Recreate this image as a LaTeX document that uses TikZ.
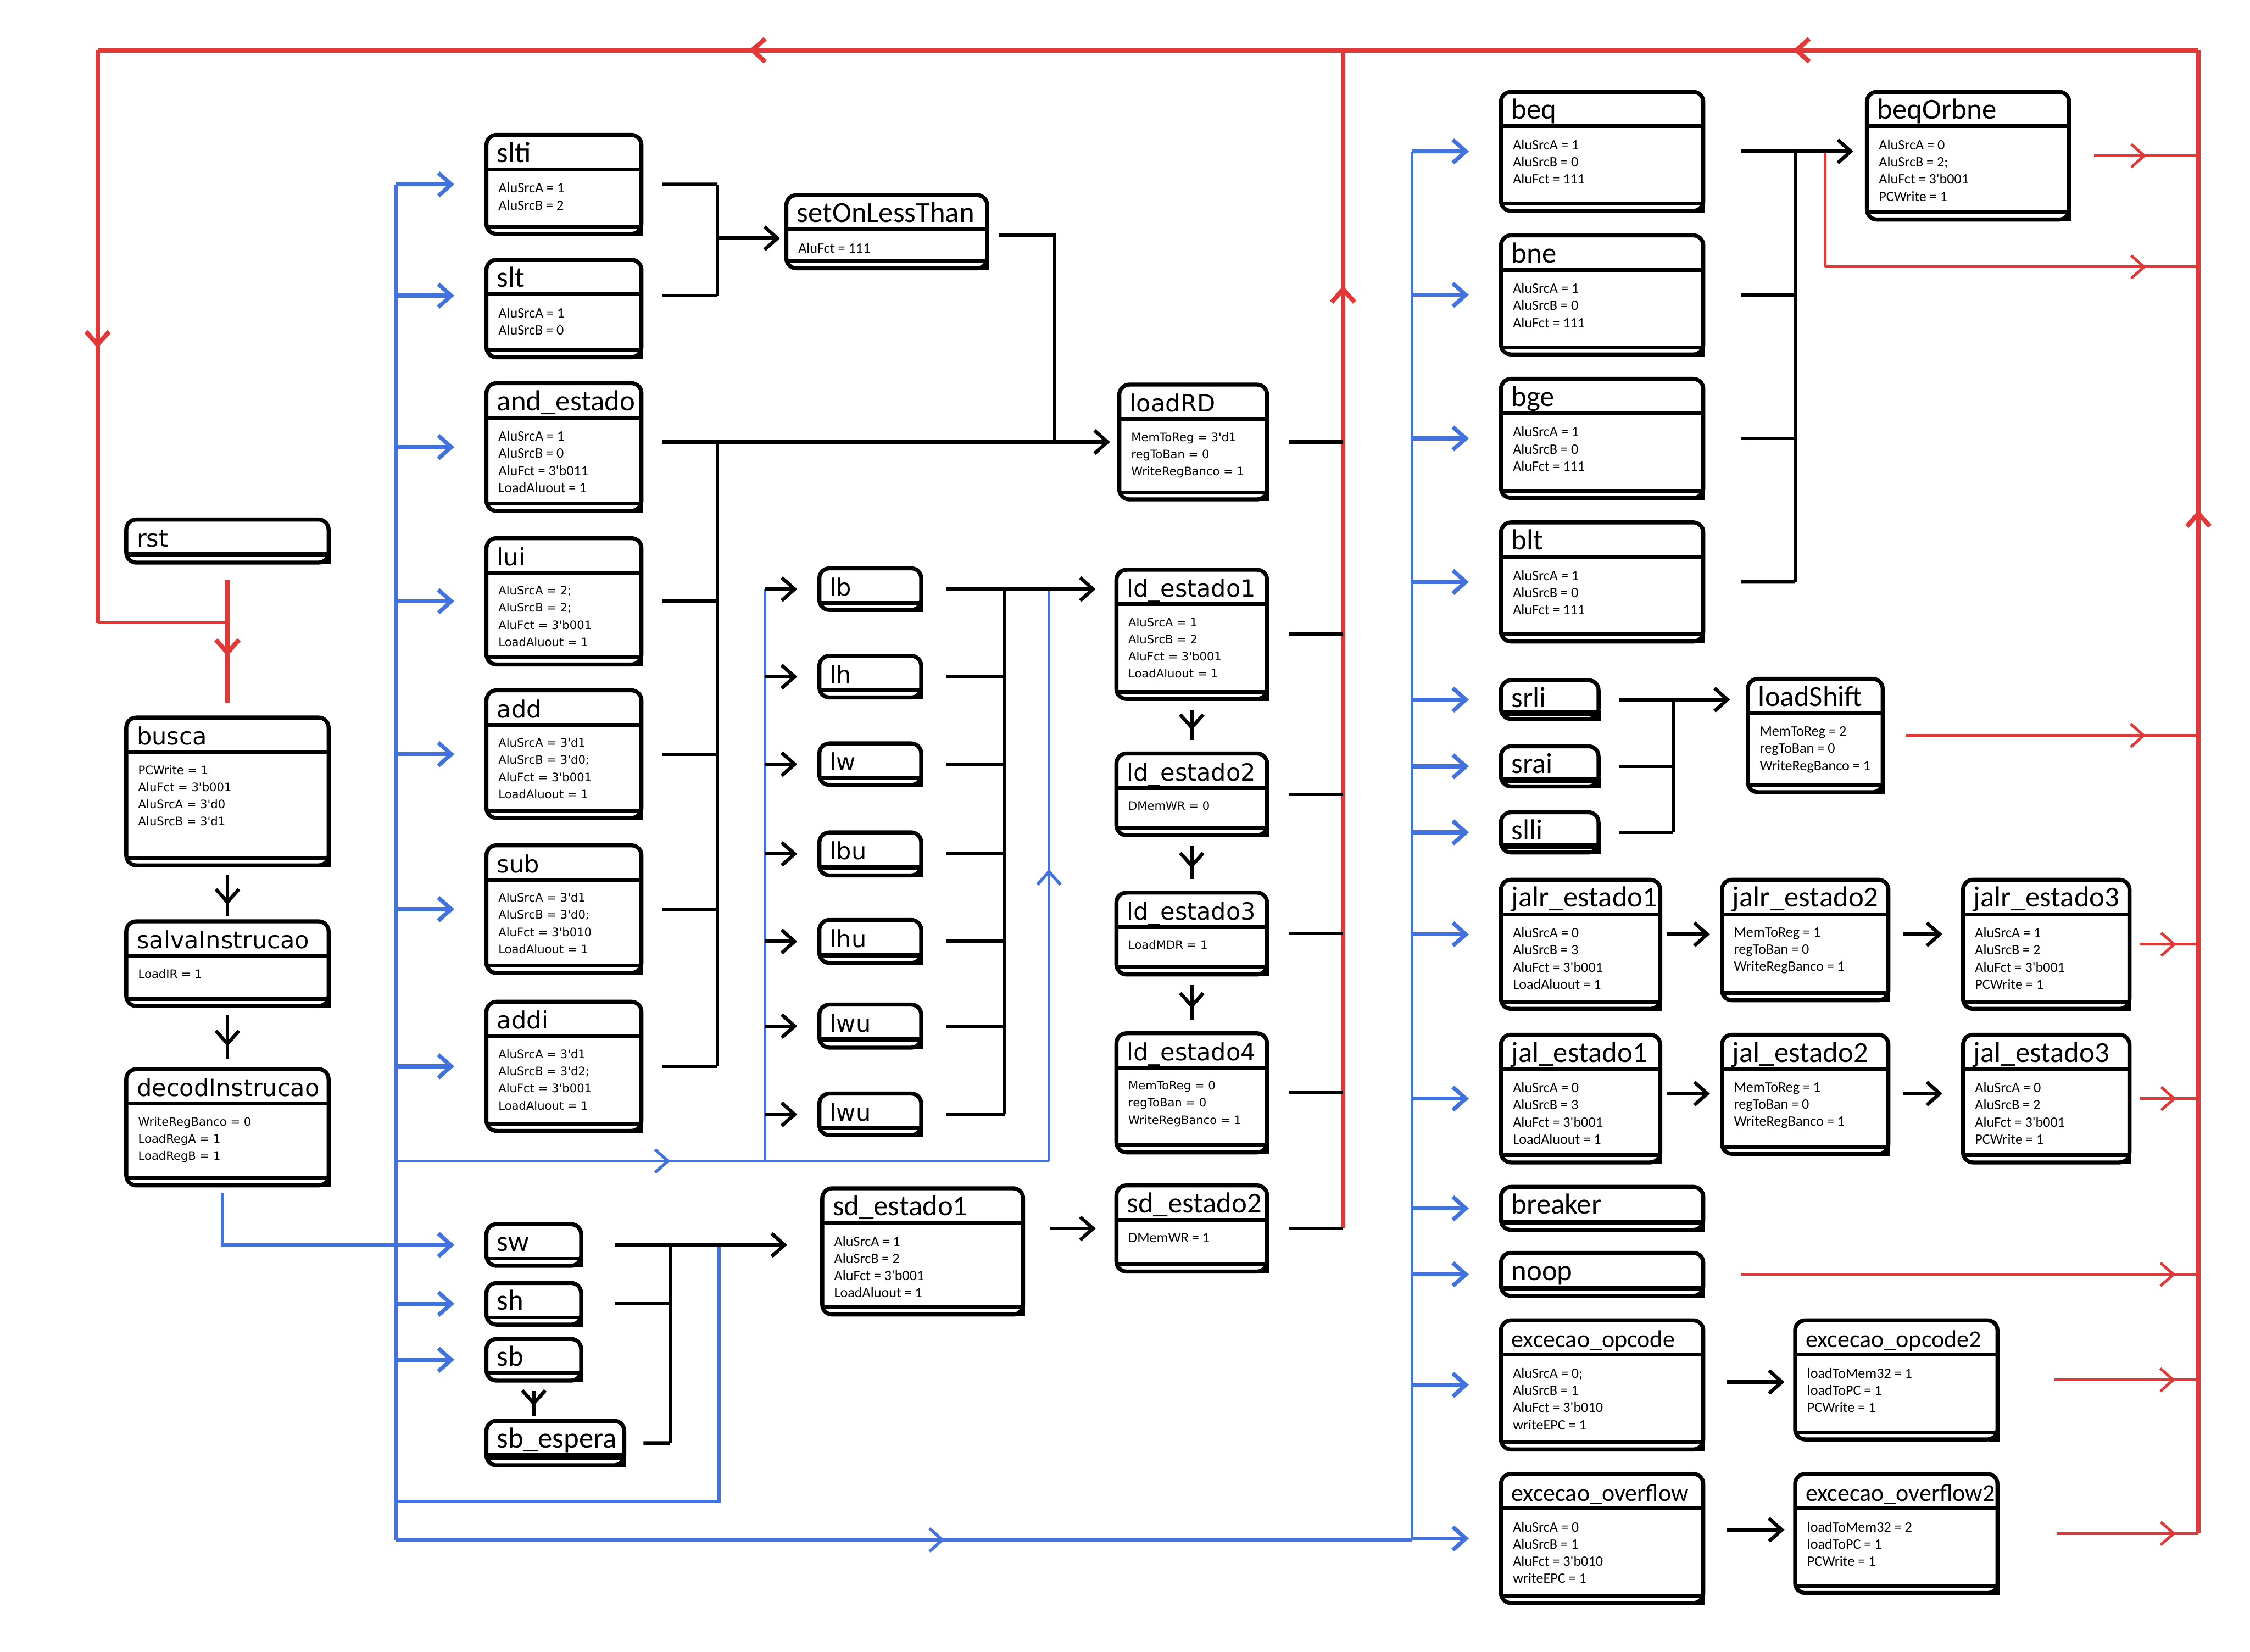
\documentclass[tikz,border=0pt]{standalone}
\usepackage{fontspec}
\usepackage{xcolor}
\usetikzlibrary{arrows.meta,fit,decorations.markings}
\newfontfamily\largo[Ligatures=TeXOff]{DejaVu Sans}
\newfontfamily\estreito[Ligatures=TeXOff]{Carlito}
\definecolor{vermelho}{HTML}{E23838}
\definecolor{azul}{HTML}{4272DD}
\tikzset{
  caixa/.style={draw, line width=1.6pt, rounded corners=4pt, fill=white, inner sep=0pt},
  caixa linha/.style={line width=1.5pt},
  largo titulo/.style={font=\largo\fontsize{9.4}{10}\selectfont, inner sep=0pt},
  largo corpo/.style={font=\largo\fontsize{4.6}{6.8}\selectfont, inner sep=0pt, align=left},
  estreito titulo/.style={font=\estreito\fontsize{11.5}{12}\selectfont, inner sep=0pt},
  estreito corpo/.style={font=\estreito\fontsize{5.7}{6.8}\selectfont, inner sep=0pt, align=left},
  fio/.style={line width=1.4pt},
  fioazul/.style={line width=1.2pt, color=azul},
  setaazul/.style={line width=1.6pt, color=azul, ->, shorten >=0.42cm},
  fiovermelho/.style={line width=1.1pt, color=vermelho},
  barramento/.style={line width=1.8pt, color=vermelho},
  meio/.style={postaction={decorate, decoration={markings, mark=at position #1 with {\arrow{>}}}}}
}
\newcommand{\estado}[8][estreito]{%
  \node[caixa, fit={(#3,#4) (#5,#6)}] (#2) {};
  \draw[caixa linha] (#3,#4+24) -- (#5,#4+24);
  \draw[caixa linha] (#3,#6-5) -- (#5,#6-5);
  \draw[caixa linha, line cap=rect] (#5,#6-5) -- (#5,#6) -- (#5-5,#6);
  \node[#1 titulo, anchor=base west] (#2-t) at (#3+7,#4+19) {#7};
  \node[#1 corpo, anchor=north west] (#2-c) at (#3+8,#4+33) {#8};
}
\newcommand{\exctit}[1]{{\fontsize{9.6}{10}\selectfont #1}}

\begin{document}
\begin{tikzpicture}[x=0.02cm, y=-0.02cm, >={Straight Barb[length=1.8mm,width=3.2mm]}]
\path[use as bounding box, fill=white] (0,0) rectangle (1568,1151);

\estado[largo]{rst}{88}{362}{229}{392}{rst}{}
\estado[largo]{busca}{88}{500}{229}{603}{busca}{PCWrite = 1\\AluFct = 3'b001\\AluSrcA = 3'd0\\AluSrcB = 3'd1}
\estado[largo]{salvaInstrucao}{88}{642}{229}{701}{salvaInstrucao}{LoadIR = 1}
\estado[largo]{decodInstrucao}{88}{745}{229}{826}{decodInstrucao}{WriteRegBanco = 0\\LoadRegA = 1\\LoadRegB = 1}

\estado{slti}{339}{94}{447}{163}{slti}{AluSrcA = 1\\AluSrcB = 2}
\estado{slt}{339}{181}{447}{249}{slt}{AluSrcA = 1\\AluSrcB = 0}
\estado{andEstado}{339}{267}{447}{356}{and\_estado}{AluSrcA = 1\\AluSrcB = 0\\AluFct = 3'b011\\LoadAluout = 1}
\estado[largo]{lui}{339}{375}{447}{463}{lui}{AluSrcA = 2;\\AluSrcB = 2;\\AluFct = 3'b001\\LoadAluout = 1}
\estado[largo]{add}{339}{481}{447}{570}{add}{AluSrcA = 3'd1\\AluSrcB = 3'd0;\\AluFct = 3'b001\\LoadAluout = 1}
\estado[largo]{sub}{339}{589}{447}{678}{sub}{AluSrcA = 3'd1\\AluSrcB = 3'd0;\\AluFct = 3'b010\\LoadAluout = 1}
\estado[largo]{addi}{339}{698}{447}{788}{addi}{AluSrcA = 3'd1\\AluSrcB = 3'd2;\\AluFct = 3'b001\\LoadAluout = 1}
\estado{setOnLessThan}{548}{136}{688}{187}{setOnLessThan}{AluFct = 111}
\estado[largo]{loadRD}{780}{268}{883}{348}{loadRD}{MemToReg = 3'd1\\regToBan = 0\\WriteRegBanco = 1}

\estado[largo]{lb}{571}{396}{642}{425}{lb}{}
\estado[largo]{lh}{571}{457}{642}{486}{lh}{}
\estado[largo]{lw}{571}{518}{642}{547}{lw}{}
\estado[largo]{lbu}{571}{580}{642}{610}{lbu}{}
\estado[largo]{lhu}{571}{641}{642}{671}{lhu}{}
\estado[largo]{lwuA}{571}{700}{642}{730}{lwu}{}
\estado[largo]{lwuB}{571}{762}{642}{791}{lwu}{}
\estado[largo]{ld1}{778}{397}{883}{487}{ld\_estado1}{AluSrcA = 1\\AluSrcB = 2\\AluFct = 3'b001\\LoadAluout = 1}
\estado[largo]{ld2}{778}{525}{883}{582}{ld\_estado2}{DMemWR = 0}
\estado[largo]{ld3}{778}{622}{883}{679}{ld\_estado3}{LoadMDR = 1}
\estado[largo]{ld4}{778}{720}{883}{803}{ld\_estado4}{MemToReg = 0\\regToBan = 0\\WriteRegBanco = 1}

\estado{sw}{339}{853}{405}{882}{sw}{}
\estado{sh}{339}{894}{405}{923}{sh}{}
\estado{sb}{339}{933}{405}{962}{sb}{}
\estado{sbEspera}{339}{990}{435}{1021}{sb\_espera}{}
\estado{sd1}{573}{828}{713}{916}{sd\_estado1}{AluSrcA = 1\\AluSrcB = 2\\AluFct = 3'b001\\LoadAluout = 1}
\estado{sd2}{778}{826}{883}{886}{sd\_estado2}{DMemWR = 1}

\estado{beq}{1046}{64}{1187}{147}{beq}{AluSrcA = 1\\AluSrcB = 0\\AluFct = 111}
\estado{bne}{1046}{164}{1187}{247}{bne}{AluSrcA = 1\\AluSrcB = 0\\AluFct = 111}
\estado{bge}{1046}{264}{1187}{347}{bge}{AluSrcA = 1\\AluSrcB = 0\\AluFct = 111}
\estado{blt}{1046}{364}{1187}{447}{blt}{AluSrcA = 1\\AluSrcB = 0\\AluFct = 111}
\estado{beqOrbne}{1301}{64}{1442}{153}{beqOrbne}{AluSrcA = 0\\AluSrcB = 2;\\AluFct = 3'b001\\PCWrite = 1}
\estado{srli}{1046}{474}{1114}{501}{srli}{}
\estado{srai}{1046}{520}{1114}{548}{srai}{}
\estado{slli}{1046}{566}{1114}{594}{slli}{}
\estado{loadShift}{1218}{473}{1312}{552}{loadShift}{MemToReg = 2\\regToBan = 0\\WriteRegBanco = 1}
\estado{jalr1}{1046}{613}{1157}{703}{jalr\_estado1}{AluSrcA = 0\\AluSrcB = 3\\AluFct = 3'b001\\LoadAluout = 1}
\estado{jalr2}{1200}{613}{1316}{697}{jalr\_estado2}{MemToReg = 1\\regToBan = 0\\WriteRegBanco = 1}
\estado{jalr3}{1368}{613}{1484}{703}{jalr\_estado3}{AluSrcA = 1\\AluSrcB = 2\\AluFct = 3'b001\\PCWrite = 1}
\estado{jal1}{1046}{721}{1157}{810}{jal\_estado1}{AluSrcA = 0\\AluSrcB = 3\\AluFct = 3'b001\\LoadAluout = 1}
\estado{jal2}{1200}{721}{1316}{804}{jal\_estado2}{MemToReg = 1\\regToBan = 0\\WriteRegBanco = 1}
\estado{jal3}{1368}{721}{1484}{810}{jal\_estado3}{AluSrcA = 0\\AluSrcB = 2\\AluFct = 3'b001\\PCWrite = 1}
\estado{breaker}{1046}{827}{1187}{857}{breaker}{}
\estado{noop}{1046}{873}{1187}{903}{noop}{}
\estado{excOp}{1046}{920}{1187}{1010}{\exctit{excecao\_opcode}}{AluSrcA = 0;\\AluSrcB = 1\\AluFct = 3'b010\\writeEPC = 1}
\estado{excOp2}{1251}{920}{1392}{1003}{\exctit{excecao\_opcode2}}{loadToMem32 = 1\\loadToPC = 1\\PCWrite = 1}
\estado{excOv}{1046}{1027}{1187}{1117}{\exctit{excecao\_overflow}}{AluSrcA = 0\\AluSrcB = 1\\AluFct = 3'b010\\writeEPC = 1}
\estado{excOv2}{1251}{1027}{1392}{1110}{\exctit{excecao\_overflow2}}{loadToMem32 = 2\\loadToPC = 1\\PCWrite = 1}

\coordinate (vtd) at (1532,35);
\coordinate (vtm) at (936,35);
\coordinate (vte) at (68,35);
\coordinate (veb) at (68,434);
\coordinate (vrst) at (158.5,434);
\coordinate (vmb) at (936,856);
\coordinate (vdb) at (1532,1068.5);
\coordinate (vbeq) at (1272,105.5);
\coordinate (vbeqb) at (1272,186);
\draw[barramento, meio=0.193, meio=0.69] (vtd) -- (vte);
\draw[barramento, meio=0.52] (vte) -- (veb);
\draw[fiovermelho] (veb) -- (vrst);
\draw[barramento, meio=0.62] ([yshift=-0.22cm]rst.south) -- ([yshift=0.18cm]busca.north);
\draw[barramento, meio=0.8] (vmb) -- (vtm);
\draw[barramento, meio=0.69] (vdb) -- (vtd);
\draw[fiovermelho, meio=0.5] ([xshift=0.32cm]beqOrbne.east) -- (beqOrbne.east -| vdb);
\draw[fiovermelho] (vbeq) -- (vbeqb);
\draw[fiovermelho, meio=0.86] (vbeqb) -- (vbeqb -| vdb);
\draw[fiovermelho, meio=0.82] ([xshift=0.3cm]loadShift.east) -- (loadShift.east -| vdb);
\draw[fiovermelho, meio=0.62] ([xshift=0.12cm]jalr3.east) -- (jalr3.east -| vdb);
\draw[fiovermelho, meio=0.62] ([xshift=0.12cm]jal3.east) -- (jal3.east -| vdb);
\draw[fiovermelho, meio=0.95] ([xshift=0.5cm]noop.east) -- (noop.east -| vdb);
\draw[fiovermelho, meio=0.84] ([xshift=0.76cm]excOp2.east) -- (excOp2.east -| vdb);
\draw[fiovermelho, meio=0.84] ([xshift=0.8cm]excOv2.east) -- (excOv2.east -| vdb);

\draw[fio] ([xshift=0.28cm]loadRD.east) -- (loadRD.east -| vmb);
\draw[fio] ([xshift=0.28cm]ld1.east) -- (ld1.east -| vmb);
\draw[fio] ([xshift=0.28cm]ld2.east) -- (ld2.east -| vmb);
\draw[fio] ([xshift=0.28cm]ld3.east) -- (ld3.east -| vmb);
\draw[fio] ([xshift=0.28cm]ld4.east) -- (ld4.east -| vmb);
\draw[fio] ([xshift=0.28cm]sd2.east) -- (vmb);

\coordinate (ael) at (276,128.5);
\coordinate (aeb) at (276,1073);
\coordinate (aesw) at (276,867.5);
\coordinate (adec) at (155,867.5);
\coordinate (aem) at (276,809);
\coordinate (al1) at (533,809);
\coordinate (al1t) at (533,410.5);
\coordinate (al2) at (731,809);
\coordinate (al2t) at (731,410.5);
\coordinate (aeb1) at (276,1046);
\coordinate (asw) at (501,1046);
\coordinate (asw2) at (501,867.5);
\coordinate (adb) at (984,1073);
\coordinate (adt) at (984,105.5);
\draw[fioazul] (ael) -- (aeb);
\draw[fioazul] ([yshift=-0.08cm]decodInstrucao.south -| adec) -- (adec) -- (aesw);
\draw[setaazul] (ael |- slti.west) -- (slti.west);
\draw[setaazul] ([yshift=0.18cm]ael |- slt.west) -- ([yshift=0.18cm]slt.west);
\draw[setaazul] (ael |- andEstado.west) -- (andEstado.west);
\draw[setaazul] (ael |- lui.west) -- (lui.west);
\draw[setaazul] (ael |- add.west) -- (add.west);
\draw[setaazul] (ael |- sub.west) -- (sub.west);
\draw[setaazul] (ael |- addi.west) -- (addi.west);
\draw[setaazul] (aesw) -- (sw.west);
\draw[setaazul] (ael |- sh.west) -- (sh.west);
\draw[setaazul] (ael |- sb.west) -- (sb.west);
\draw[fioazul, meio=0.42] (aem) -- (al2);
\draw[fioazul] (al1) -- (al1t);
\draw[fioazul, meio=0.51] (al2) -- (al2t);
\draw[fioazul] (aeb1) -- (asw) -- (asw2);
\draw[fioazul, meio=0.54] (aeb) -- (adb);
\draw[fioazul] (adb) -- (adt);
\draw[setaazul] (adt) -- (beq.west);
\draw[setaazul] (adt |- bne.west) -- (bne.west);
\draw[setaazul] (adt |- bge.west) -- (bge.west);
\draw[setaazul] (adt |- blt.west) -- (blt.west);
\draw[setaazul] (adt |- srli.west) -- (srli.west);
\draw[setaazul] (adt |- srai.west) -- (srai.west);
\draw[setaazul] (adt |- slli.west) -- (slli.west);
\draw[setaazul] ([yshift=0.14cm]adt |- jalr1.west) -- ([yshift=0.14cm]jalr1.west);
\draw[setaazul] (adt |- jal1.west) -- (jal1.west);
\draw[setaazul] (adt |- breaker.west) -- (breaker.west);
\draw[setaazul] (adt |- noop.west) -- (noop.west);
\draw[setaazul] (adt |- excOp.west) -- (excOp.west);
\draw[setaazul] (adt |- excOv.west) -- (excOv.west);

\draw[fio, ->, shorten >=0.28cm] (al1t) -- (lb.west);
\draw[fio, ->, shorten >=0.28cm] (al1 |- lh.west) -- (lh.west);
\draw[fio, ->, shorten >=0.28cm] (al1 |- lw.west) -- (lw.west);
\draw[fio, ->, shorten >=0.28cm] (al1 |- lbu.west) -- (lbu.west);
\draw[fio, ->, shorten >=0.28cm] (al1 |- lhu.west) -- (lhu.west);
\draw[fio, ->, shorten >=0.28cm] (al1 |- lwuA.west) -- (lwuA.west);
\draw[fio, ->, shorten >=0.28cm] (al1 |- lwuB.west) -- (lwuB.west);

\draw[fio, meio=0.72] ([yshift=-0.1cm]busca.south) -- ([yshift=0.04cm]salvaInstrucao.north);
\draw[fio, meio=0.72] ([yshift=-0.1cm]salvaInstrucao.south) -- ([yshift=0.12cm]decodInstrucao.north);

\coordinate (slt-t) at (500,128.5);
\coordinate (slt-b) at (500,206);
\coordinate (slt-m) at (500,166);
\draw[fio] ([xshift=0.26cm]slti.east) -- (slt-t);
\draw[fio] ([xshift=0.26cm]slt.east |- slt-b) -- (slt-b);
\draw[fio] (slt-t) -- (slt-b);
\draw[fio, ->, shorten >=0.06cm] (slt-m) -- (slt-m -| setOnLessThan.west);
\coordinate (sol-d) at (735,164);
\coordinate (sol-b) at (735,308);
\draw[fio] ([xshift=0.14cm]setOnLessThan.east |- sol-d) -- (sol-d) -- (sol-b);

\coordinate (and-t) at (500,308);
\coordinate (and-b) at (500,743);
\draw[fio, ->, shorten >=0.1cm] ([xshift=0.26cm]andEstado.east |- and-t) -- (loadRD.west);
\draw[fio] ([xshift=0.26cm]lui.east) -- (lui.east -| and-t);
\draw[fio] ([xshift=0.26cm]add.east) -- (add.east -| and-t);
\draw[fio] ([xshift=0.26cm]sub.east) -- (sub.east -| and-t);
\draw[fio] ([xshift=0.26cm]addi.east) -- (and-b);
\draw[fio] (and-t) -- (and-b);

\coordinate (lbus-t) at (700,410.5);
\coordinate (lbus-b) at (700,776.5);
\draw[fio, ->, shorten >=0.26cm] ([xshift=0.32cm]lb.east) -- (lb.east -| ld1.west);
\draw[fio] ([xshift=0.32cm]lh.east) -- (lh.east -| lbus-t);
\draw[fio] ([xshift=0.32cm]lw.east) -- (lw.east -| lbus-t);
\draw[fio] ([xshift=0.32cm]lbu.east) -- (lbu.east -| lbus-t);
\draw[fio] ([xshift=0.32cm]lhu.east) -- (lhu.east -| lbus-t);
\draw[fio] ([xshift=0.32cm]lwuA.east) -- (lwuA.east -| lbus-t);
\draw[fio] ([xshift=0.32cm]lwuB.east) -- (lbus-b);
\draw[fio] (lbus-t) -- (lbus-b);

\draw[fio, meio=0.68] ([yshift=-0.12cm]ld1.south) -- ([yshift=0.16cm]ld2.north);
\draw[fio, meio=0.68] ([yshift=-0.12cm]ld2.south) -- ([yshift=0.16cm]ld3.north);
\draw[fio, meio=0.68] ([yshift=-0.12cm]ld3.south) -- ([yshift=0.16cm]ld4.north);

\coordinate (sw-t) at (467,867.5);
\coordinate (sw-b) at (467,1005.5);
\draw[fio, ->, shorten >=0.46cm] ([xshift=0.44cm]sw.east) -- (sw.east -| sd1.west);
\draw[fio] ([xshift=0.44cm]sh.east) -- (sh.east -| sw-t);
\draw[fio] ([xshift=0.24cm]sbEspera.east) -- (sw-b);
\draw[fio] (sw-t) -- (sw-b);
\draw[fio, meio=0.6] ([yshift=-0.12cm]sb.south) -- ([yshift=0.04cm]sb.south |- sbEspera.north);
\draw[fio, ->, shorten >=0.26cm] ([xshift=0.34cm]sd1.east |- sd2.west) -- (sd2.west);

\coordinate (beq-t) at (1251,105.5);
\coordinate (beq-b) at (1251,405.5);
\draw[fio, ->, shorten >=0.16cm] ([xshift=0.5cm]beq.east) -- (beq.east -| beqOrbne.west);
\draw[fio] ([xshift=0.5cm]bne.east) -- (bne.east -| beq-t);
\draw[fio] ([xshift=0.5cm]bge.east) -- (bge.east -| beq-t);
\draw[fio] ([xshift=0.5cm]blt.east) -- (beq-b);
\draw[fio] (beq-t) -- (beq-b);

\coordinate (sr-t) at (1166,487.5);
\coordinate (sr-b) at (1166,580);
\draw[fio, ->, shorten >=0.22cm] ([xshift=0.26cm]srli.east) -- (srli.east -| loadShift.west);
\draw[fio] ([xshift=0.26cm]srai.east) -- (srai.east -| sr-t);
\draw[fio] ([xshift=0.26cm]slli.east) -- (sr-b);
\draw[fio] (sr-t) -- (sr-b);

\coordinate (jalr-y) at (0,651);
\coordinate (jal-y) at (0,762);
\coordinate (op-y) at (0,963);
\coordinate (ov-y) at (0,1066);
\draw[fio, ->, shorten >=0.14cm] ([xshift=0.06cm]jalr1.east |- jalr-y) -- (jalr-y -| jalr2.west);
\draw[fio, ->, shorten >=0.26cm] ([xshift=0.18cm]jalr2.east |- jalr-y) -- (jalr-y -| jalr3.west);
\draw[fio, ->, shorten >=0.14cm] ([xshift=0.06cm]jal1.east |- jal-y) -- (jal-y -| jal2.west);
\draw[fio, ->, shorten >=0.26cm] ([xshift=0.18cm]jal2.east |- jal-y) -- (jal-y -| jal3.west);
\draw[fio, ->, shorten >=0.12cm] ([xshift=0.3cm]excOp.east |- op-y) -- (op-y -| excOp2.west);
\draw[fio, ->, shorten >=0.12cm] ([xshift=0.3cm]excOv.east |- ov-y) -- (ov-y -| excOv2.west);
\end{tikzpicture}
\end{document}
